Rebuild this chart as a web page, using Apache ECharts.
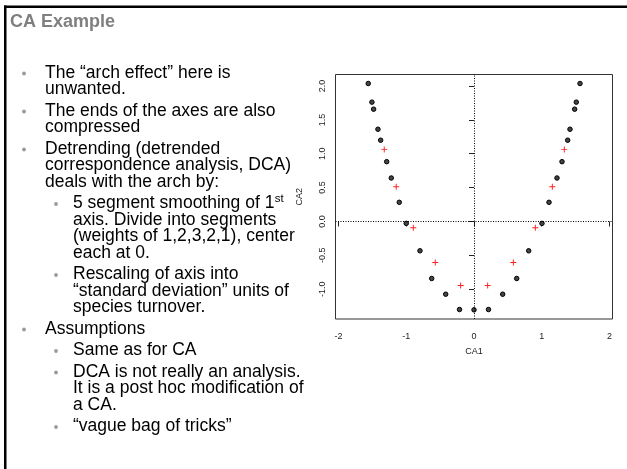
<!DOCTYPE html>
<html>
<head>
<meta charset="utf-8">
<title>CA Example</title>
<script src="https://cdn.jsdelivr.net/npm/echarts@6/dist/echarts.min.js"></script>
<style>
  html, body { margin: 0; padding: 0; background: #fff; }
  #chart { width: 627px; height: 469px; }
</style>
</head>
<body>
<div id="chart"></div>
<script>
// Site scores (black circles) on the first two CA axes
const siteCA1 = [-1.562, -1.508, -1.483, -1.419, -1.379, -1.290, -1.222, -1.104, -1.001, -0.798, -0.625, -0.418, -0.214, 0.000,
                 0.214, 0.424, 0.631, 0.808, 1.004, 1.108, 1.226, 1.300, 1.384, 1.418, 1.487, 1.511, 1.566];
const siteCA2 = [2.037, 1.762, 1.658, 1.362, 1.200, 0.883, 0.642, 0.283, -0.028, -0.433, -0.842, -1.074, -1.300, -1.305,
                 -1.300, -1.074, -0.842, -0.433, -0.028, 0.283, 0.642, 0.883, 1.200, 1.362, 1.658, 1.762, 2.037];
// Species scores (red crosses)
const speciesCA1 = [-1.326, -1.149, -0.897, -0.572, -0.197, 0.202, 0.581, 0.906, 1.157, 1.334];
const speciesCA2 = [1.061, 0.513, -0.093, -0.605, -0.945, -0.945, -0.605, -0.093, 0.513, 1.061];
// Axis ticks
const xTicks = [-2, -1, 0, 1, 2];
const yTicks = [-1.0, -0.5, 0.0, 0.5, 1.0, 1.5, 2.0];

const FONT = "'Liberation Sans', Arial, sans-serif";

// Slide text: [level, text, baseline, starts a bullet]
const bodyLines = [
  [1, 'The \u201carch effect\u201d here is', 79, true],
  [1, 'unwanted.', 95.5, false],
  [1, 'The ends of the axes are also', 117, true],
  [1, 'compressed', 133.5, false],
  [1, 'Detrending (detrended', 155, true],
  [1, 'correspondence analysis, DCA)', 171.5, false],
  [1, 'deals with the arch by:', 188, false],
  [2, '5 segment smoothing of 1', 209.5, true],
  [2, 'axis. Divide into segments', 226, false],
  [2, '(weights of 1,2,3,2,1), center', 242.5, false],
  [2, 'each at 0.', 259, false],
  [2, 'Rescaling of axis into', 280.5, true],
  [2, '\u201cstandard deviation\u201d units of', 297, false],
  [2, 'species turnover.', 313.5, false],
  [1, 'Assumptions', 335, true],
  [2, 'Same as for CA', 356.5, true],
  [2, 'DCA is not really an analysis.', 378, true],
  [2, 'It is a post hoc modification of', 394.5, false],
  [2, 'a CA.', 411, false],
  [2, '\u201cvague bag of tricks\u201d', 432.5, true]
];

const BODY_SIZE = 17.5;
const BASE_SHIFT = 0.347 * BODY_SIZE;   // distance from em-middle to baseline
const measureCtx = document.createElement('canvas').getContext('2d');
measureCtx.font = BODY_SIZE + 'px ' + FONT;

const graphics = [
  // slide frame
  { type: 'rect', shape: { x: 4, y: 5.5, width: 623, height: 2.5 }, style: { fill: '#000' } },
  { type: 'rect', shape: { x: 4, y: 5.5, width: 2.5, height: 464 }, style: { fill: '#000' } },
  { type: 'text', x: 10, y: 28.5 - 0.347 * 18,
    style: { text: 'CA Example', font: 'bold 18px ' + FONT, fill: '#7f7f7f', verticalAlign: 'middle' } }
];

bodyLines.forEach(([level, txt, base, bullet]) => {
  const tx = level === 1 ? 45 : 73;
  graphics.push({ type: 'text', x: tx, y: base - BASE_SHIFT,
    style: { text: txt, font: BODY_SIZE + 'px ' + FONT, fill: '#000', verticalAlign: 'middle' } });
  if (bullet) {
    graphics.push({ type: 'circle', shape: { cx: level === 1 ? 24 : 56, cy: base - 5.5, r: 1.9 },
      style: { fill: '#9a9a9a' } });
  }
  if (txt === '5 segment smoothing of 1') {
    const w = measureCtx.measureText(txt).width;
    graphics.push({ type: 'text', x: tx + w + 0.5, y: base - 6.5 - 0.347 * 11.5,
      style: { text: 'st', font: '11.5px ' + FONT, fill: '#000', verticalAlign: 'middle' } });
  }
});

const chart = echarts.init(document.getElementById('chart'), null, { renderer: 'canvas' });

const axisColor = '#222';
const tickFont = { fontSize: 9, color: axisColor, fontFamily: FONT };

chart.setOption({
  animation: false,
  backgroundColor: '#fff',
  grid: { left: 335.5, right: 14.5, top: 74.5, bottom: 150, show: true,
          borderColor: '#333', borderWidth: 1, backgroundColor: 'transparent' },
  xAxis: {
    type: 'value', min: -2.046, max: 2.046,
    axisLine: { show: false },
    splitLine: { show: false },
    axisTick: { show: true, customValues: xTicks, length: 5, lineStyle: { color: axisColor } },
    axisLabel: Object.assign({ customValues: xTicks, margin: 13 }, tickFont),
    name: 'CA1', nameLocation: 'middle', nameGap: 28,
    nameTextStyle: { fontSize: 9, color: axisColor, fontFamily: FONT }
  },
  yAxis: {
    type: 'value', min: -1.44, max: 2.17,
    axisLine: { show: false },
    splitLine: { show: false },
    axisTick: { show: true, customValues: yTicks, length: 5, lineStyle: { color: axisColor } },
    axisLabel: Object.assign({ customValues: yTicks, margin: 8, rotate: 90,
      formatter: v => v.toFixed(1) }, tickFont),
    name: 'CA2', nameLocation: 'middle', nameGap: 31, nameRotate: 90,
    nameTextStyle: { fontSize: 9, color: axisColor, fontFamily: FONT }
  },
  series: [
    {
      name: 'sites', type: 'scatter',
      data: siteCA1.map((x, i) => [x, siteCA2[i]]),
      symbol: 'circle', symbolSize: 4.5,
      itemStyle: { color: '#444', borderColor: '#000', borderWidth: 1, opacity: 1 },
      markLine: {
        silent: true, symbol: ['none', 'none'], label: { show: false },
        lineStyle: { color: '#000', width: 1, type: [1, 1.5] },
        data: [{ xAxis: 0 }, { yAxis: 0 }]
      },
      z: 3
    },
    {
      name: 'species', type: 'scatter',
      data: speciesCA1.map((x, i) => [x, speciesCA2[i]]),
      symbol: 'path://M4.2,0h1.6v4.2h4.2v1.6h-4.2v4.2h-1.6v-4.2h-4.2v-1.6h4.2z', symbolSize: 6,
      itemStyle: { color: '#ff2020', opacity: 1 },
      z: 4
    }
  ],
  graphic: graphics
});
</script>
</body>
</html>
